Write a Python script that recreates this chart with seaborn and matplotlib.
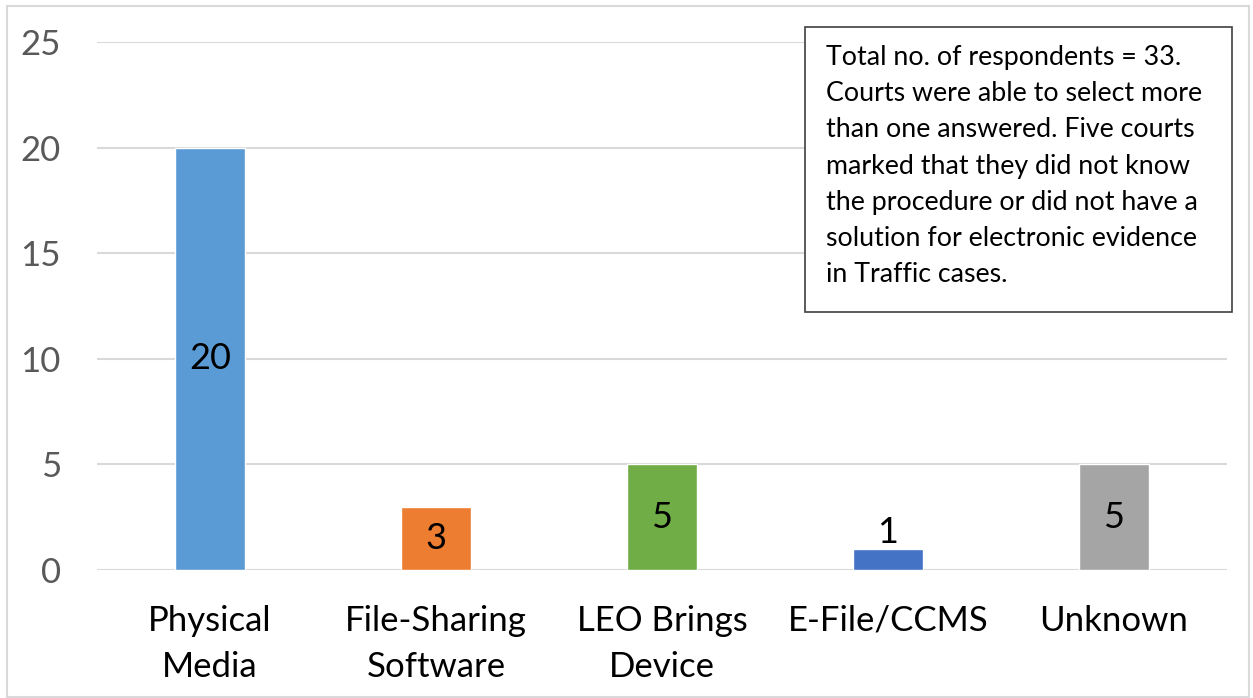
import matplotlib
matplotlib.use("Agg")
import matplotlib.pyplot as plt
from matplotlib.patches import Rectangle
import seaborn as sns
import pandas as pd

categories = ["Physical\nMedia", "File-Sharing\nSoftware", "LEO Brings\nDevice", "E-File/CCMS", "Unknown"]
counts = [20, 3, 5, 1, 5]
bar_colors = ["#5B9BD5", "#ED7D31", "#70AD47", "#4472C4", "#A5A5A5"]
y_ticks = [0, 5, 10, 15, 20, 25]
note = ("Total no. of respondents = 33.\n"
        "Courts were able to select more\n"
        "than one answered. Five courts\n"
        "marked that they did not know\n"
        "the procedure or did not have a\n"
        "solution for electronic evidence\n"
        "in Traffic cases.")

sns.set_style("white")
plt.rcParams["font.family"] = ["Lato", "DejaVu Sans"]

df = pd.DataFrame({"category": categories, "count": counts})

fig = plt.figure(figsize=(12.53, 6.98), dpi=100)
ax = fig.add_axes([97 / 1253, 1 - 570 / 698, (1227 - 97) / 1253, (570 - 42) / 698])

sns.barplot(data=df, x="category", y="count", hue="category", palette=bar_colors,
            width=0.314, legend=False, ax=ax, saturation=1)

ax.set_ylim(0, 25)
ax.set_xlim(-0.5, len(categories) - 0.5)
ax.set_yticks(y_ticks)
ax.yaxis.grid(True, color="#D9D9D9", linewidth=1.5)
ax.set_axisbelow(True)
for s in ax.spines.values():
    s.set_visible(False)
ax.set_xlabel("")
ax.set_ylabel("")
ax.tick_params(axis="y", length=0, pad=26, labelsize=25, labelcolor="#595959")
ax.tick_params(axis="x", length=0, pad=25, labelsize=25, labelcolor="#000000")
for lbl in ax.get_xticklabels():
    lbl.set_linespacing(1.55)

# value labels centred in each bar; short bars get the label on top
for i, v in enumerate(counts):
    if v >= 3:
        ax.text(i, v / 2, str(v), ha="center", va="center", fontsize=26, color="black")
    else:
        ax.text(i, v, str(v), ha="center", va="bottom", fontsize=26, color="black")

# note box
fig.patches.append(Rectangle((805 / 1253, 1 - 312 / 698), (1232 - 805) / 1253, (312 - 27) / 698,
                             transform=fig.transFigure, facecolor="white",
                             edgecolor="#404040", linewidth=1.2, zorder=5))
fig.text(826 / 1253, 1 - 45 / 698, note, ha="left", va="top", fontsize=19.3,
         linespacing=1.56, color="black", zorder=6)

# chart frame
fig.patches.append(Rectangle((7 / 1253, 1 - 697 / 698), (1249 - 7) / 1253, (697 - 6) / 698,
                             transform=fig.transFigure, facecolor="none",
                             edgecolor="#D9D9D9", linewidth=1.5, zorder=0))

fig.savefig("out.png", dpi=100)
